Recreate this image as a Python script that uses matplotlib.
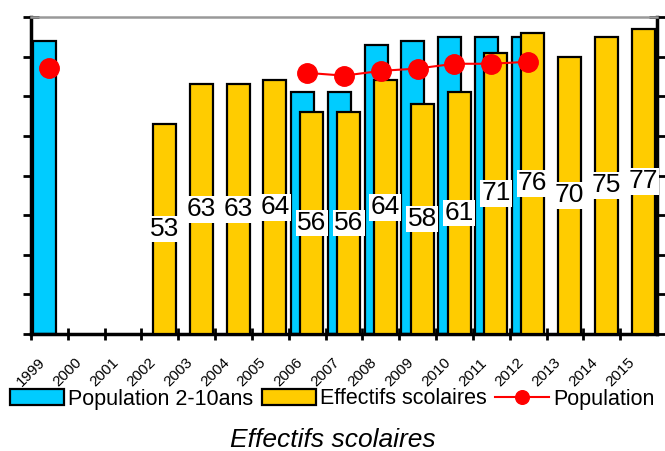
import numpy as np
import matplotlib.pyplot as plt

plt.rcParams['font.family'] = ['Liberation Sans', 'DejaVu Sans']

# data
years = [str(y) for y in range(1999, 2016)]
pop_2_10 = [74, None, None, None, None, None, None, 61, 61, 73, 74, 75, 75, 75, None, None, None]
effectifs = [None, None, None, 53, 63, 63, 64, 56, 56, 64, 58, 61, 71, 76, 70, 75, 77]
population = [67.2, None, None, None, None, None, None, 65.9, 65.2, 66.4, 67.0, 68.2, 68.2, 68.7, None, None, None]

BLUE = '#00CCFF'
YELLOW = '#FFCC00'
RED = '#FF0000'

fig = plt.figure(figsize=(6.65, 4.51), dpi=100)
ax = fig.add_axes([31 / 665, 1 - 334 / 451, 626 / 665, 317 / 451])

x = np.arange(len(years))
w = 0.625

# blue bars (behind)
xb = [i + 0.37 for i, v in enumerate(pop_2_10) if v is not None]
vb = [v for v in pop_2_10 if v is not None]
hb = ax.bar(xb, vb, width=w, color=BLUE, edgecolor='black', linewidth=1.6, zorder=2,
            label='Population 2-10ans')

# yellow bars (front)
xy = [i + 0.625 for i, v in enumerate(effectifs) if v is not None]
vy = [v for v in effectifs if v is not None]
hy = ax.bar(xy, vy, width=w, color=YELLOW, edgecolor='black', linewidth=1.6, zorder=3,
            label='Effectifs scolaires')

# value labels in middle of yellow bars
for xi, v in zip(xy, vy):
    ax.text(xi, v / 2, str(v), ha='center', va='center', fontsize=19, zorder=4,
            bbox=dict(facecolor='white', edgecolor='none', pad=1))

# population line
pop = np.array([np.nan if v is None else v for v in population])
hl, = ax.plot(x + 0.5, pop, color=RED, linewidth=1.5, marker='o', markersize=14,
              zorder=5, label='Population')

ax.set_xlim(0, len(years))
ax.set_ylim(0, 80)
ax.set_xticks(x)
ax.set_xticklabels(years, rotation=45, fontsize=11, ha='center')
ax.set_yticks(np.arange(0, 81, 10))
ax.set_yticklabels([])

ax.tick_params(axis='y', direction='inout', length=12, width=2, left=True, right=True)
ax.tick_params(axis='x', direction='inout', length=9, width=2, pad=11)

for s in ['left', 'right', 'bottom']:
    ax.spines[s].set_linewidth(2.5)
    ax.spines[s].set_color('black')
ax.spines['top'].set_linewidth(1.8)
ax.spines['top'].set_color('#999999')

fig.legend(handles=[hb, hy, hl], loc='center', bbox_to_anchor=(0.5, 1 - 399 / 451),
           ncol=3, frameon=False, fontsize=15.5, handlelength=2.5, handletextpad=0.2,
           columnspacing=0.4, markerscale=0.7, borderaxespad=0)

fig.text(0.5, 1 - 440 / 451, 'Effectifs scolaires', ha='center', va='center',
         fontsize=19, style='italic')

fig.savefig('out.png', dpi=100)
